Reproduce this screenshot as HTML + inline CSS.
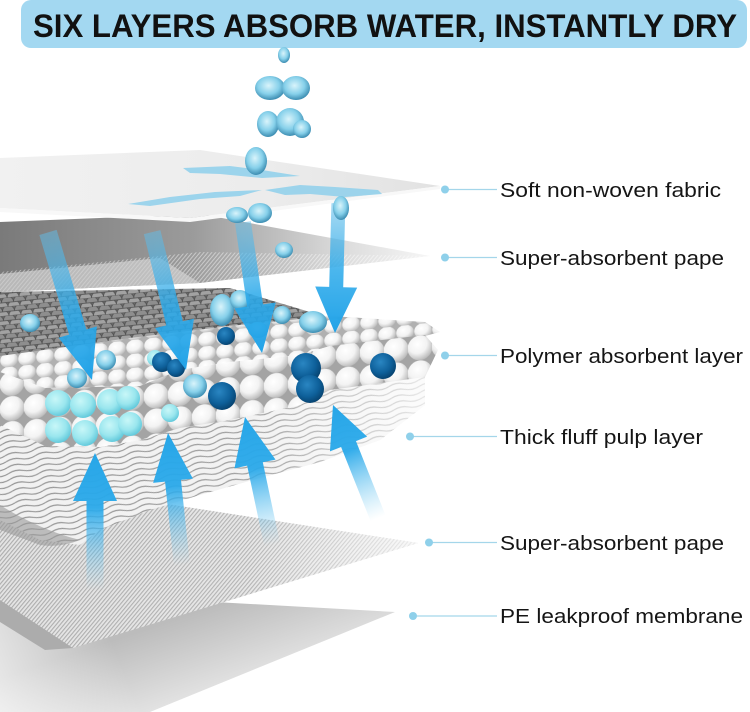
<!DOCTYPE html>
<html><head><meta charset="utf-8">
<style>
html,body{margin:0;padding:0;background:#fff;}
svg{display:block;}
</style></head><body>
<svg width="750" height="712" viewBox="0 0 750 712" xmlns="http://www.w3.org/2000/svg">
<defs>
 <linearGradient id="upG" x1="0" y1="0" x2="0" y2="1">
   <stop offset="0" stop-color="#27a6e8" stop-opacity="1"/>
   <stop offset="0.4" stop-color="#2aa9ea" stop-opacity="0.95"/>
   <stop offset="1" stop-color="#7ccdf2" stop-opacity="0"/>
 </linearGradient>
 <linearGradient id="dnG" x1="0" y1="0" x2="0" y2="1">
   <stop offset="0" stop-color="#62bde8" stop-opacity="0.5"/>
   <stop offset="0.55" stop-color="#2aa9ea" stop-opacity="0.85"/>
   <stop offset="1" stop-color="#22a3e8" stop-opacity="1"/>
 </linearGradient>
 <pattern id="hatch" width="3" height="3" patternUnits="userSpaceOnUse" patternTransform="rotate(40)">
  <rect width="3" height="3" fill="#e4e4e4"/>
  <rect width="1.1" height="3" fill="#acacac"/>
 </pattern>
 <pattern id="hatch2" width="3" height="3" patternUnits="userSpaceOnUse" patternTransform="rotate(40)">
  <rect width="3" height="3" fill="#ffffff" fill-opacity="0"/>
  <rect width="1" height="3" fill="#ffffff" fill-opacity="0.45"/>
 </pattern>
 <pattern id="scales" width="12" height="9" patternUnits="userSpaceOnUse" patternTransform="rotate(-6)">
  <rect width="12" height="9" fill="#6a6a6a"/>
  <path d="M0 9 A6 6 0 0 1 12 9 Z" fill="#a2a2a2" stroke="#505050" stroke-width="0.8"/>
  <path d="M-6 4.5 A6 6 0 0 1 6 4.5 Z M6 4.5 A6 6 0 0 1 18 4.5 Z" fill="#8e8e8e" stroke="#505050" stroke-width="0.8"/>
 </pattern>
 <radialGradient id="ball" cx="0.4" cy="0.35" r="0.68">
  <stop offset="0" stop-color="#ffffff"/>
  <stop offset="0.55" stop-color="#f3f3f3"/>
  <stop offset="1" stop-color="#b8b8b8"/>
 </radialGradient>
 <radialGradient id="cyan" cx="0.4" cy="0.35" r="0.68">
  <stop offset="0" stop-color="#c8f7f8"/>
  <stop offset="0.6" stop-color="#9ae6ee"/>
  <stop offset="1" stop-color="#5ec7da"/>
 </radialGradient>
 <radialGradient id="dblue" cx="0.4" cy="0.35" r="0.7">
  <stop offset="0" stop-color="#2a86c2"/>
  <stop offset="0.6" stop-color="#0e609a"/>
  <stop offset="1" stop-color="#063f6a"/>
 </radialGradient>
 <radialGradient id="drop" cx="0.45" cy="0.4" r="0.65">
  <stop offset="0" stop-color="#d9f4fb"/>
  <stop offset="0.55" stop-color="#86d0ea"/>
  <stop offset="1" stop-color="#2d7fa6"/>
 </radialGradient>
 <pattern id="bigballs" width="24" height="25" patternUnits="userSpaceOnUse" patternTransform="translate(0,372) skewY(-5)">
  <rect width="24" height="25" fill="#a4a4a4"/>
  <circle cx="12" cy="12.5" r="12.4" fill="url(#ball)"/>
 </pattern>
 <pattern id="smallballs" width="18" height="14" patternUnits="userSpaceOnUse" patternTransform="translate(0,340) skewY(-6)">
  <rect width="18" height="14" fill="#b0b0b0"/>
  <ellipse cx="9" cy="7" rx="8.8" ry="7.6" fill="url(#ball)"/>
 </pattern>
 <pattern id="waves" width="30" height="6" patternUnits="userSpaceOnUse" patternTransform="rotate(-12)">
  <rect width="30" height="6" fill="#f1f1f1"/>
  <path d="M0 3 Q7.5 0 15 3 T30 3" fill="none" stroke="#959595" stroke-width="1.2"/>
 </pattern>
 <linearGradient id="s2" x1="0" y1="0" x2="1" y2="0">
  <stop offset="0" stop-color="#7a7a7a"/>
  <stop offset="0.45" stop-color="#9b9b9b"/>
  <stop offset="0.8" stop-color="#dcdcdc"/>
  <stop offset="1" stop-color="#f6f6f6"/>
 </linearGradient>
 <linearGradient id="s6" gradientUnits="userSpaceOnUse" x1="250" y1="594" x2="290" y2="712">
  <stop offset="0" stop-color="#bcbcbc"/>
  <stop offset="0.6" stop-color="#e0e0e0"/>
  <stop offset="1" stop-color="#f7f7f7"/>
 </linearGradient>
 <linearGradient id="s6l" gradientUnits="userSpaceOnUse" x1="120" y1="660" x2="0" y2="712">
  <stop offset="0" stop-color="#fff" stop-opacity="0"/>
  <stop offset="1" stop-color="#fff" stop-opacity="0.7"/>
 </linearGradient>
 <linearGradient id="fadeR" x1="0" y1="0" x2="1" y2="0">
  <stop offset="0" stop-color="#fff" stop-opacity="0"/>
  <stop offset="0.6" stop-color="#fff" stop-opacity="0.1"/>
  <stop offset="1" stop-color="#fff" stop-opacity="0.75"/>
 </linearGradient>
 <linearGradient id="top" x1="0" y1="0" x2="1" y2="0">
  <stop offset="0" stop-color="#f1f1f1"/>
  <stop offset="0.6" stop-color="#ececec"/>
  <stop offset="1" stop-color="#e2e2e2"/>
 </linearGradient>
</defs>

<rect width="750" height="712" fill="#ffffff"/>

<!-- Title -->
<rect x="21" y="0" width="726" height="48" rx="10" fill="#a3d8f1"/>
<text x="33" y="37" font-family="Liberation Sans, Arial, sans-serif" font-weight="bold" font-size="32" fill="#111" textLength="704" lengthAdjust="spacingAndGlyphs">SIX LAYERS ABSORB WATER, INSTANTLY DRY</text>

<!-- Sheet 6 PE membrane -->
<polygon points="0,590 395,612 150,712 0,712" fill="url(#s6)"/>
<polygon points="0,590 395,612 150,712 0,712" fill="url(#s6l)"/>
<polygon points="0,598 73,648 45,650 0,622" fill="#acacac"/>

<!-- Sheet 5 -->
<polygon points="0,478 418,543 73,648 0,600" fill="url(#hatch)"/>
<polygon points="0,478 418,543 73,648 0,600" fill="url(#fadeR)"/>

<!-- Fluff pulp -->
<path d="M0,415 L45,445 L100,447 L140,440 L180,428 L230,420 L300,405 L330,390 L425,375 L425,405 L380,440 L320,462 L260,478 L200,495 L150,510 L100,530 L80,545 L40,540 L0,520 Z" fill="url(#waves)"/>
<path d="M0,415 L45,445 L100,447 L140,440 L180,428 L230,420 L300,405 L330,390 L425,375 L425,405 L380,440 L320,462 L260,478 L200,495 L150,510 L100,530 L80,545 L40,540 L0,520 Z" fill="url(#fadeR)"/>
<path d="M0,505 Q40,530 80,540 Q60,548 40,545 L0,530 Z" fill="#9a9a9a" opacity="0.6"/>

<!-- Up arrows -->
<g fill="url(#upG)">
 <g transform="translate(95,453) rotate(0)"><polygon points="0,0 -22,48 -8.5,48 -8.5,137 8.5,137 8.5,48 22,48"/></g>
 <g transform="translate(168,433) rotate(-6)"><polygon points="0,0 -20,48 -8,48 -8,133 8,133 8,48 20,48"/></g>
 <g transform="translate(245,417) rotate(-12)"><polygon points="0,0 -21,48 -8,48 -8,131 8,131 8,48 21,48"/></g>
 <g transform="translate(333,405) rotate(-21.7)"><polygon points="0,0 -20,42 -8,42 -8,122 8,122 8,42 20,42"/></g>
</g>

<!-- Gray mat -->
<polygon points="0,292 230,288 330,318 130,340 0,358" fill="url(#scales)"/>
<!-- Ball top surface -->
<polygon points="0,356 130,338 230,326 330,316 425,322 440,332 425,336 330,346 300,355 230,362 180,370 140,386 45,388 0,372" fill="url(#smallballs)"/>
<!-- Ball front face -->
<polygon points="0,372 45,388 140,386 180,370 230,362 300,355 330,346 425,335 438,350 425,377 330,390 300,405 230,420 180,428 140,440 100,447 45,446 0,425" fill="url(#bigballs)"/>

<!-- Cyan balls block -->
<g fill="url(#cyan)">
 <circle cx="58" cy="403" r="13"/><circle cx="83" cy="405" r="13"/><circle cx="110" cy="402" r="13"/><circle cx="128" cy="398" r="12"/>
 <circle cx="58" cy="430" r="13"/><circle cx="85" cy="433" r="13"/><circle cx="112" cy="429" r="13"/><circle cx="130" cy="424" r="12"/>
 <circle cx="155" cy="358" r="8"/><circle cx="170" cy="413" r="9"/>
</g>
<!-- Dark blue balls -->
<g fill="url(#dblue)">
 <circle cx="162" cy="362" r="10"/><circle cx="176" cy="368" r="9"/>
 <circle cx="222" cy="396" r="14"/>
 <circle cx="306" cy="368" r="15"/><circle cx="310" cy="389" r="14"/>
 <circle cx="383" cy="366" r="13"/>
 <circle cx="226" cy="336" r="9"/>
</g>

<!-- Sheet 2 super-absorbent paper -->
<polygon points="0,222 200,214 430,256 200,283 0,292" fill="url(#s2)"/>
<polygon points="0,272 200,252 430,256 200,283 0,292" fill="url(#hatch2)"/>
<polygon points="0,274 160,258 200,283 0,292" fill="#d2d2d2" opacity="0.7"/>

<!-- Drops on ball layer -->
<g fill="url(#drop)">
 <ellipse cx="30" cy="323" rx="10" ry="9"/>
 <circle cx="77" cy="378" r="10"/>
 <circle cx="106" cy="360" r="10"/>
 <circle cx="195" cy="386" r="12"/>
 <ellipse cx="222" cy="310" rx="12" ry="16"/>
 <ellipse cx="240" cy="300" rx="10" ry="10"/>
 <ellipse cx="282" cy="315" rx="9" ry="9"/>
 <ellipse cx="313" cy="322" rx="14" ry="11"/>
 <ellipse cx="258" cy="330" rx="10" ry="8"/>
</g>

<!-- Down arrows -->
<g fill="url(#dnG)">
 <g transform="translate(92,380) rotate(-16.6)"><polygon points="0,0 -20,-50 -9,-50 -9,-154 9,-154 9,-50 20,-50"/></g>
 <g transform="translate(186,370) rotate(-13.8)"><polygon points="0,0 -20,-48 -8.5,-48 -8.5,-142 8.5,-142 8.5,-48 20,-48"/></g>
 <g transform="translate(262,353) rotate(-8.3)"><polygon points="0,0 -21,-48 -8,-48 -8,-132 8,-132 8,-48 21,-48"/></g>
 <g transform="translate(335,333) rotate(1.5)"><polygon points="0,0 -21,-46 -7,-46 -7,-138 7,-138 7,-46 21,-46"/></g>
</g>

<!-- Top sheet -->
<polygon points="0,158 200,150 440,186 190,218 0,208" fill="url(#top)"/>
<polygon points="0,208 190,218 440,186 440,189 190,222 0,212" fill="#f8f8f8"/>
<!-- water on sheet -->
<g fill="#8fd0ec" opacity="0.85">
 <polygon points="183,168 230,166 262,170 300,176 262,178 220,174 190,173"/>
 <polygon points="128,204 170,197 215,192 262,190 240,196 200,199 150,206"/>
 <polygon points="265,190 300,185 335,187 378,190 382,194 345,197 310,194 285,195"/>
</g>

<!-- Falling drops -->
<g fill="url(#drop)">
 <ellipse cx="284" cy="55" rx="6" ry="8"/>
 <ellipse cx="270" cy="88" rx="15" ry="12"/>
 <ellipse cx="296" cy="88" rx="14" ry="12"/>
 <ellipse cx="268" cy="124" rx="11" ry="13"/>
 <ellipse cx="290" cy="122" rx="14" ry="14"/>
 <ellipse cx="302" cy="129" rx="9" ry="9"/>
 <ellipse cx="256" cy="161" rx="11" ry="14"/>
 <ellipse cx="237" cy="215" rx="11" ry="8"/>
 <ellipse cx="260" cy="213" rx="12" ry="10"/>
 <ellipse cx="341" cy="208" rx="8" ry="12"/>
 <ellipse cx="284" cy="250" rx="9" ry="8"/>
</g>

<!-- Labels -->
<g stroke="#a4d6ea" stroke-width="1.2">
 <line x1="445" y1="189.5" x2="497" y2="189.5"/>
 <line x1="445" y1="257.5" x2="497" y2="257.5"/>
 <line x1="445" y1="355.5" x2="497" y2="355.5"/>
 <line x1="410" y1="436.5" x2="497" y2="436.5"/>
 <line x1="429" y1="542.5" x2="497" y2="542.5"/>
 <line x1="413" y1="616" x2="497" y2="616"/>
</g>
<g fill="#8fd0ea">
 <circle cx="445" cy="189.5" r="4"/>
 <circle cx="445" cy="257.5" r="4"/>
 <circle cx="445" cy="355.5" r="4"/>
 <circle cx="410" cy="436.5" r="4"/>
 <circle cx="429" cy="542.5" r="4"/>
 <circle cx="413" cy="616" r="4"/>
</g>
<g font-family="Liberation Sans, Arial, sans-serif" font-size="20.5" fill="#151515">
 <text x="500" y="197" textLength="221" lengthAdjust="spacingAndGlyphs">Soft non-woven fabric</text>
 <text x="500" y="265" textLength="224" lengthAdjust="spacingAndGlyphs">Super-absorbent pape</text>
 <text x="500" y="363" textLength="243" lengthAdjust="spacingAndGlyphs">Polymer absorbent layer</text>
 <text x="500" y="444" textLength="203" lengthAdjust="spacingAndGlyphs">Thick fluff pulp layer</text>
 <text x="500" y="550" textLength="224" lengthAdjust="spacingAndGlyphs">Super-absorbent pape</text>
 <text x="500" y="623" textLength="243" lengthAdjust="spacingAndGlyphs">PE leakproof membrane</text>
</g>
</svg>
</body></html>
